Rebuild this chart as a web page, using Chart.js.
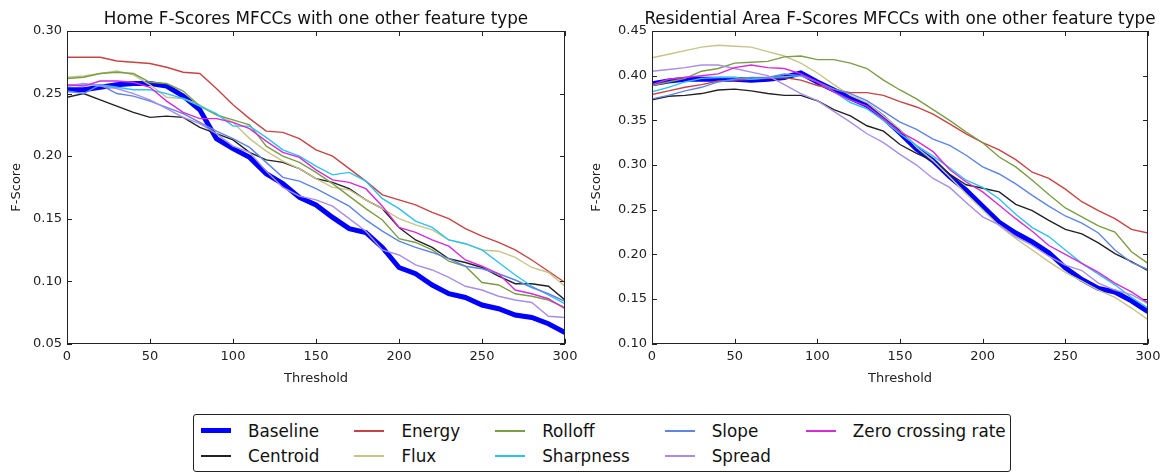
<!DOCTYPE html>
<html>
<head>
<meta charset="utf-8">
<script src="https://cdn.jsdelivr.net/npm/chart.js@4/dist/chart.umd.min.js"></script>
<style>
  body { margin: 0; background: #fff; width: 1161px; height: 473px; position: relative; overflow: hidden; font-family: "DejaVu Sans", sans-serif; }
  #homeChart { position: absolute; left: 0; top: 0; }
  #resChart { position: absolute; left: 580px; top: 0; }
  #legend {
    position: absolute; left: 193px; top: 414px; height: 58px;
    box-sizing: border-box; border: 1px solid #222; border-radius: 3px;
    padding: 3px 4px 0 7px; background: #fff;
    display: grid; grid-template-rows: 25px 25px; grid-auto-flow: column; column-gap: 35px;
    font-size: 16.8px; color: #111;
  }
  .item { display: flex; align-items: center; white-space: nowrap; }
  .handle { width: 30px; margin-right: 17px; }
</style>
</head>
<body>
<canvas id="homeChart" width="580" height="400"></canvas>
<canvas id="resChart" width="581" height="400"></canvas>
<div id="legend"></div>
<script>
// thresholds used for both plots
const thresholds = [0, 10, 20, 30, 40, 50, 60, 70, 80, 90, 100, 110, 120, 130, 140, 150,
  160, 170, 180, 190, 200, 210, 220, 230, 240, 250, 260, 270, 280, 290, 300];

const featureNames = ["Baseline", "Centroid", "Energy", "Flux", "Rolloff", "Sharpness", "Slope", "Spread", "Zero crossing rate"];
const featureColors = ["#0000ff", "#222222", "#c84444", "#c6c48a", "#7a9e45", "#2cc2f2", "#5e85e6", "#a98ee6", "#d82ad8"];

// Home
const homeBaseline = [0.253, 0.253, 0.255, 0.257, 0.258, 0.258, 0.256, 0.248, 0.237, 0.214, 0.206, 0.199, 0.186, 0.178, 0.167, 0.161,
  0.151, 0.142, 0.139, 0.127, 0.111, 0.106, 0.097, 0.090, 0.087, 0.081, 0.078, 0.073, 0.071, 0.066, 0.059];
const homeCentroid = [0.247, 0.250, 0.245, 0.240, 0.235, 0.231, 0.232, 0.231, 0.223, 0.218, 0.213, 0.203, 0.197, 0.195, 0.190, 0.182,
  0.179, 0.174, 0.165, 0.158, 0.143, 0.133, 0.127, 0.118, 0.115, 0.111, 0.104, 0.098, 0.098, 0.096, 0.085];
const homeEnergy = [0.279, 0.279, 0.279, 0.276, 0.275, 0.274, 0.271, 0.267, 0.266, 0.254, 0.241, 0.230, 0.220, 0.219, 0.214, 0.205,
  0.200, 0.190, 0.180, 0.169, 0.165, 0.161, 0.155, 0.150, 0.142, 0.136, 0.131, 0.125, 0.117, 0.108, 0.099];
const homeFlux = [0.263, 0.264, 0.266, 0.268, 0.265, 0.257, 0.247, 0.246, 0.241, 0.233, 0.227, 0.214, 0.204, 0.196, 0.190, 0.182,
  0.175, 0.173, 0.165, 0.158, 0.150, 0.145, 0.141, 0.133, 0.130, 0.125, 0.124, 0.119, 0.111, 0.107, 0.096];
const homeRolloff = [0.262, 0.263, 0.266, 0.267, 0.266, 0.259, 0.258, 0.252, 0.240, 0.233, 0.229, 0.225, 0.208, 0.200, 0.195, 0.187,
  0.178, 0.168, 0.158, 0.149, 0.134, 0.131, 0.125, 0.116, 0.112, 0.099, 0.097, 0.090, 0.088, 0.085, 0.079];
const homeSharpness = [0.256, 0.257, 0.257, 0.255, 0.253, 0.253, 0.250, 0.246, 0.240, 0.234, 0.224, 0.224, 0.215, 0.205, 0.200, 0.192,
  0.185, 0.187, 0.180, 0.166, 0.158, 0.148, 0.143, 0.133, 0.130, 0.125, 0.115, 0.105, 0.096, 0.089, 0.082];
const homeSlope = [0.252, 0.250, 0.257, 0.250, 0.248, 0.244, 0.239, 0.234, 0.227, 0.220, 0.214, 0.207, 0.195, 0.183, 0.180, 0.174,
  0.167, 0.160, 0.149, 0.140, 0.132, 0.127, 0.123, 0.118, 0.112, 0.110, 0.106, 0.101, 0.095, 0.090, 0.084];
const homeSpread = [0.256, 0.258, 0.256, 0.254, 0.250, 0.245, 0.238, 0.231, 0.226, 0.218, 0.208, 0.203, 0.188, 0.175, 0.168, 0.165,
  0.160, 0.150, 0.140, 0.125, 0.121, 0.113, 0.109, 0.103, 0.096, 0.093, 0.088, 0.085, 0.083, 0.072, 0.071];
const homeZcr = [0.257, 0.256, 0.260, 0.260, 0.259, 0.255, 0.244, 0.235, 0.230, 0.230, 0.227, 0.222, 0.212, 0.203, 0.199, 0.189,
  0.181, 0.179, 0.174, 0.160, 0.143, 0.139, 0.133, 0.128, 0.117, 0.112, 0.106, 0.093, 0.090, 0.086, 0.078];

// Residential area
const resBaseline = [0.391, 0.394, 0.396, 0.396, 0.396, 0.396, 0.395, 0.396, 0.398, 0.403, 0.393, 0.384, 0.375, 0.367, 0.353, 0.336,
  0.318, 0.305, 0.287, 0.272, 0.254, 0.236, 0.224, 0.214, 0.202, 0.185, 0.172, 0.162, 0.158, 0.148, 0.136];
const resCentroid = [0.373, 0.377, 0.378, 0.380, 0.384, 0.385, 0.383, 0.380, 0.378, 0.378, 0.372, 0.362, 0.355, 0.344, 0.338, 0.323,
  0.313, 0.305, 0.290, 0.278, 0.274, 0.270, 0.256, 0.249, 0.238, 0.228, 0.223, 0.213, 0.201, 0.192, 0.182];
const resEnergy = [0.379, 0.383, 0.387, 0.390, 0.394, 0.395, 0.396, 0.397, 0.398, 0.395, 0.389, 0.385, 0.381, 0.381, 0.378, 0.371,
  0.365, 0.357, 0.346, 0.335, 0.325, 0.317, 0.306, 0.292, 0.285, 0.273, 0.259, 0.249, 0.240, 0.228, 0.224];
const resFlux = [0.420, 0.424, 0.428, 0.432, 0.434, 0.433, 0.432, 0.427, 0.422, 0.414, 0.403, 0.390, 0.378, 0.370, 0.355, 0.340,
  0.320, 0.305, 0.287, 0.268, 0.250, 0.232, 0.218, 0.205, 0.192, 0.180, 0.170, 0.160, 0.152, 0.140, 0.127];
const resRolloff = [0.389, 0.393, 0.397, 0.405, 0.408, 0.414, 0.415, 0.416, 0.421, 0.422, 0.418, 0.418, 0.414, 0.408, 0.395, 0.384,
  0.374, 0.362, 0.350, 0.337, 0.325, 0.309, 0.298, 0.283, 0.267, 0.252, 0.242, 0.232, 0.225, 0.203, 0.190];
const resSharpness = [0.382, 0.387, 0.393, 0.397, 0.398, 0.398, 0.396, 0.398, 0.399, 0.400, 0.393, 0.382, 0.370, 0.363, 0.350, 0.335,
  0.322, 0.310, 0.297, 0.283, 0.275, 0.262, 0.245, 0.230, 0.220, 0.205, 0.190, 0.178, 0.166, 0.152, 0.140];
const resSlope = [0.374, 0.378, 0.383, 0.387, 0.393, 0.396, 0.398, 0.398, 0.402, 0.400, 0.393, 0.385, 0.380, 0.372, 0.360, 0.348,
  0.340, 0.329, 0.322, 0.311, 0.298, 0.290, 0.279, 0.266, 0.254, 0.243, 0.235, 0.224, 0.205, 0.191, 0.183];
const resSpread = [0.405, 0.407, 0.409, 0.412, 0.412, 0.408, 0.404, 0.400, 0.390, 0.380, 0.372, 0.360, 0.348, 0.335, 0.325, 0.312,
  0.300, 0.285, 0.275, 0.258, 0.242, 0.233, 0.220, 0.210, 0.198, 0.188, 0.182, 0.168, 0.160, 0.155, 0.145];
const resZcr = [0.390, 0.396, 0.398, 0.400, 0.402, 0.409, 0.412, 0.409, 0.408, 0.402, 0.393, 0.382, 0.373, 0.366, 0.352, 0.337,
  0.327, 0.315, 0.295, 0.281, 0.270, 0.255, 0.240, 0.226, 0.210, 0.200, 0.190, 0.180, 0.168, 0.158, 0.146];

const homeSeries = [homeBaseline, homeCentroid, homeEnergy, homeFlux, homeRolloff, homeSharpness, homeSlope, homeSpread, homeZcr];
const resSeries = [resBaseline, resCentroid, resEnergy, resFlux, resRolloff, resSharpness, resSlope, resSpread, resZcr];

// box round the plot with inward ticks on all four sides, plus a title centred over the plot
const framePlugin = {
  id: "frame",
  afterDraw(chart, args, opts) {
    const ctx = chart.ctx;
    const a = chart.chartArea;
    const xs = chart.scales.x, ys = chart.scales.y;
    const tl = 5;
    ctx.save();
    ctx.strokeStyle = "#222";
    ctx.lineWidth = 1;
    ctx.beginPath();
    xs.ticks.forEach(t => {
      const px = Math.round(xs.getPixelForValue(t.value)) + 0.5;
      ctx.moveTo(px, a.bottom); ctx.lineTo(px, a.bottom - tl);
      ctx.moveTo(px, a.top); ctx.lineTo(px, a.top + tl);
    });
    ys.ticks.forEach(t => {
      const py = Math.round(ys.getPixelForValue(t.value)) + 0.5;
      ctx.moveTo(a.left, py); ctx.lineTo(a.left + tl, py);
      ctx.moveTo(a.right, py); ctx.lineTo(a.right - tl, py);
    });
    ctx.stroke();
    ctx.strokeRect(Math.round(a.left) + 0.5, Math.round(a.top) + 0.5, Math.round(a.right - a.left) - 1, Math.round(a.bottom - a.top) - 1);
    ctx.fillStyle = "#111";
    ctx.font = "16.8px 'DejaVu Sans'";
    ctx.textAlign = "center";
    ctx.textBaseline = "alphabetic";
    ctx.fillText(opts.text, (a.left + a.right) / 2, 24);
    ctx.restore();
  }
};

function makeChart(id, title, series, yMin, yMax, yWidth, padRight) {
  const datasets = series.map((vals, i) => ({
    label: featureNames[i],
    data: thresholds.map((t, j) => ({ x: t, y: vals[j] })),
    borderColor: featureColors[i],
    borderWidth: i === 0 ? 5 : 1.4,
    pointRadius: 0,
    tension: 0,
    order: featureNames.length - i
  }));
  return new Chart(document.getElementById(id), {
    type: "line",
    data: { datasets: datasets },
    options: {
      responsive: false,
      animation: false,
      layout: { padding: { left: 0, right: padRight, top: 31, bottom: 12 } },
      plugins: {
        legend: { display: false },
        tooltip: { enabled: false },
        title: { display: false },
        frame: { text: title }
      },
      scales: {
        x: {
          type: "linear", min: 0, max: 300,
          afterFit: s => { s.paddingLeft = 0; s.paddingRight = 0; },
          grid: { display: false, drawTicks: false },
          border: { display: false },
          ticks: { stepSize: 50, padding: 5, color: "#222", font: { family: "DejaVu Sans", size: 13 }, maxRotation: 0 },
          title: { display: true, text: "Threshold", color: "#222", font: { family: "DejaVu Sans", size: 13 }, padding: { top: 1, bottom: 2 } }
        },
        y: {
          min: yMin, max: yMax,
          afterFit: s => { s.width = yWidth; s.paddingTop = 0; s.paddingBottom = 0; },
          grid: { display: false, drawTicks: false },
          border: { display: false },
          ticks: { stepSize: 0.05, padding: 5, color: "#222", font: { family: "DejaVu Sans", size: 13 }, callback: v => v.toFixed(2) },
          title: { display: true, text: "F-Score", color: "#222", font: { family: "DejaVu Sans", size: 13 }, padding: { top: 9, bottom: 0 } }
        }
      }
    },
    plugins: [framePlugin]
  });
}

makeChart("homeChart", "Home F-Scores MFCCs with one other feature type", homeSeries, 0.05, 0.30, 67, 15);
makeChart("resChart", "Residential Area F-Scores MFCCs with one other feature type", resSeries, 0.10, 0.45, 72, 13);

// legend shared by both plots
const legend = document.getElementById("legend");
featureNames.forEach((name, i) => {
  const item = document.createElement("div");
  item.className = "item";
  const h = document.createElement("div");
  h.className = "handle";
  h.style.borderTop = (i === 0 ? 5 : 2) + "px solid " + featureColors[i];
  item.appendChild(h);
  const s = document.createElement("span");
  s.textContent = name;
  item.appendChild(s);
  legend.appendChild(item);
});
</script>
</body>
</html>
